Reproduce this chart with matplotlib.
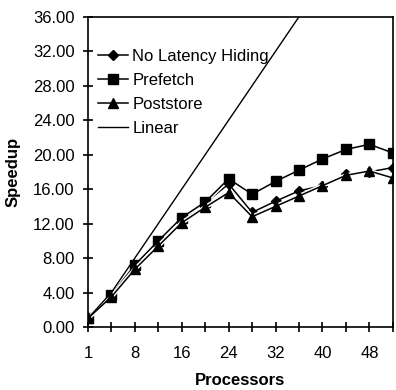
import matplotlib
matplotlib.use("Agg")
import matplotlib.pyplot as plt
import matplotlib.patheffects as pe
from matplotlib.lines import Line2D
import numpy as np

plt.rcParams['font.family'] = ['Liberation Sans', 'DejaVu Sans']

processors = [1, 4, 8, 12, 16, 20, 24, 28, 32, 36, 40, 44, 48, 52]
no_latency = [1.0, 3.6, 6.9, 9.6, 12.4, 14.4, 16.6, 13.3, 14.6, 15.8, 16.4, 17.7, 18.0, 18.5]
prefetch = [1.0, 3.7, 7.2, 10.0, 12.7, 14.5, 17.2, 15.4, 16.9, 18.2, 19.5, 20.6, 21.2, 20.2]
poststore = [1.0, 3.5, 6.7, 9.4, 12.1, 13.9, 15.6, 12.8, 14.0, 15.2, 16.4, 17.6, 18.1, 17.3]
linear = processors
tick_labels = ["1", "8", "16", "24", "32", "40", "48"]


def main():
    fig = plt.figure(figsize=(3.96, 3.90), dpi=100)
    ax = fig.add_axes([0.222, 0.1615, 0.77, 0.7955])

    x = np.arange(len(processors))
    halo = [pe.Stroke(linewidth=3.2, foreground="white"), pe.Normal()]

    series = [
        (no_latency, "D", 5, "No Latency Hiding"),
        (prefetch, "s", 6.5, "Prefetch"),
        (poststore, "^", 6.5, "Poststore"),
    ]
    handles = []
    for ys, mk, ms, name in series:
        # line with a white halo, markers drawn on top without it
        ax.plot(x, ys, color="black", lw=1.1, path_effects=halo)
        ax.plot(x, ys, ls="none", marker=mk, ms=ms, mec="black", mfc="black")
        handles.append(Line2D([], [], color="black", lw=1.1, marker=mk, ms=ms,
                              mfc="black", mec="black", label=name))
    ax.plot(x, linear, color="black", lw=1.0)
    handles.append(Line2D([], [], color="black", lw=1.0, label="Linear"))

    ax.set_xlim(0, len(processors) - 1)
    ax.set_ylim(0, 36)
    ax.set_xticks(x)
    ax.set_xticklabels([tick_labels[i // 2] if i % 2 == 0 else "" for i in range(len(x))])
    ax.set_yticks(np.arange(0, 37, 4))
    ax.set_yticklabels([f"{v:.2f}" for v in np.arange(0, 37, 4)])
    ax.tick_params(direction="inout", length=7, width=1.2, labelsize=12, pad=3)
    ax.tick_params(axis="y", pad=6)
    ax.tick_params(axis="x", pad=10)
    for s in ax.spines.values():
        s.set_linewidth(1.2)

    ax.set_xlabel("Processors", fontsize=12, fontweight="bold", labelpad=9)
    ax.set_ylabel("Speedup", fontsize=12, fontweight="bold", labelpad=9)

    ax.legend(handles=handles, loc="upper left", frameon=False, fontsize=12,
              handlelength=1.8, handletextpad=0.25, labelspacing=0.55,
              borderaxespad=0.3, bbox_to_anchor=(-0.005, 0.935))

    fig.savefig("out.png", dpi=100)
    plt.close()


if __name__ == '__main__':
    main()
